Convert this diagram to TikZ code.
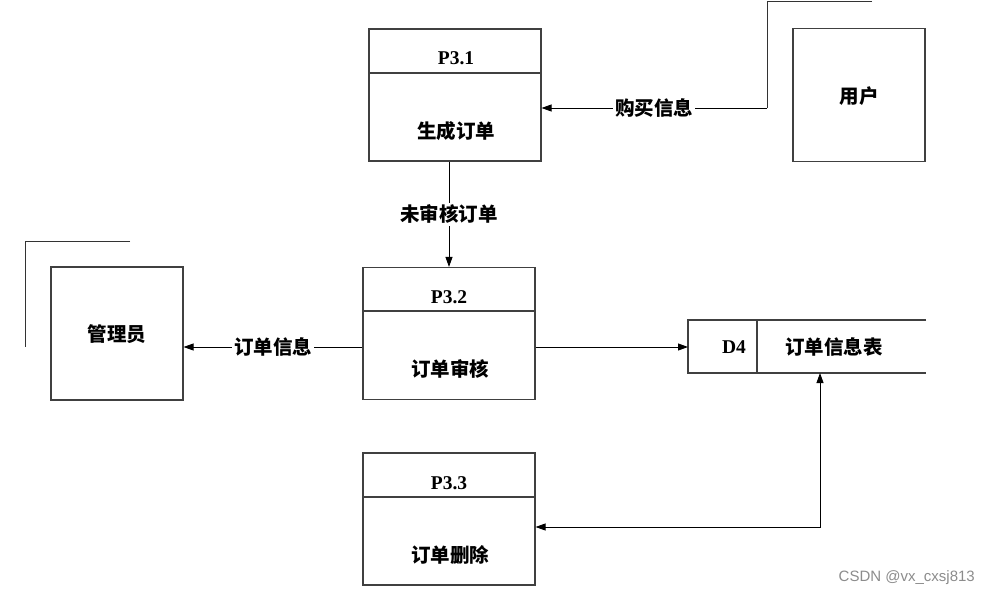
\documentclass[tikz,border=0pt]{standalone}
\usepackage{fontspec}
\setmainfont{Liberation Serif}
\newfontfamily\cjk{Noto Sans CJK SC}
\newfontfamily\wmfont{Liberation Sans}
\usetikzlibrary{arrows.meta}
\begin{document}
\begin{tikzpicture}[x=1pt,y=-1pt,
  boxline/.style={draw=black!75,line width=1.1pt},
  procbox/.style={boxline,rectangle,minimum width=172pt,minimum height=132pt,inner sep=0pt},
  entbox/.style={boxline,rectangle,minimum width=132pt,minimum height=133pt,inner sep=0pt},
  pid/.style={font=\fontsize{19.5}{21}\selectfont\bfseries,inner sep=1pt},
  ctext/.style={font=\cjk\fontsize{19.5}{22}\selectfont\bfseries,inner sep=1pt},
  flowlabel/.style={ctext,fill=white,inner sep=2pt},
  flow/.style={draw=black,line width=0.9pt,-{Triangle[length=10pt,width=7pt]}},
  flowboth/.style={draw=black,line width=0.9pt,{Triangle[length=10pt,width=7pt]}-{Triangle[length=10pt,width=7pt]}},
  shadowline/.style={draw=black!80,line width=1pt}
]
\useasboundingbox[fill=white] (0,0) rectangle (990,596);

% Process P3.1
\node[procbox] (p31) at (455,95) {};
\draw[boxline] (369,73) -- (541,73);
\node[pid] (p31id) at (456,58) {P3.1};
\node[ctext] (p31t) at (456,131) {生成订单};

% Process P3.2
\node[procbox] (p32) at (449,333.5) {};
\draw[boxline] (363,311) -- (535,311);
\node[pid] (p32id) at (449,297) {P3.2};
\node[ctext] (p32t) at (450,369) {订单审核};

% Process P3.3
\node[procbox] (p33) at (449,519) {};
\draw[boxline] (363,497) -- (535,497);
\node[pid] (p33id) at (449,483) {P3.3};
\node[ctext] (p33t) at (450,555) {订单删除};

% Entity user
\node[entbox] (user) at (859,95) {};
\node[ctext] (usert) at (859,96) {用户};
\coordinate (ucorner) at (767,2);
\draw[shadowline] (872,2) -- (ucorner);
\coordinate (ufrom) at (767,108);
\draw[shadowline] (ucorner) -- (ufrom);

% Entity admin
\node[entbox] (admin) at (117,333.5) {};
\node[ctext] (admint) at (117,334) {管理员};
\coordinate (acorner) at (25,241);
\draw[shadowline] (130,241) -- (acorner) -- (25,347);

% Data store D4
\coordinate (dtl) at (688,320);
\coordinate (dbl) at (688,373);
\coordinate (dtr) at (926,320);
\coordinate (dbr) at (926,373);
\draw[boxline] (dtr) -- (dtl) -- (dbl) -- (dbr);
\draw[boxline] (757,320) -- (757,373);
\node[pid] (d4id) at (734,347) {D4};
\node[ctext] (d4t) at (834,347) {订单信息表};
\coordinate (d4w) at (688,347);
\coordinate (d4s) at (820,373);

% Flows
\draw[flow] (ufrom) -- (p31.east |- ufrom) node[flowlabel,pos=0.5] (l1) {购买信息};
\draw[flow] (p32.north |- p31.south) -- (p32.north) node[flowlabel,pos=0.5] (l2) {未审核订单};
\draw[flow] (p32.west |- 0,347) -- (admin.east |- 0,347) node[flowlabel,pos=0.5] (l3) {订单信息};
\draw[flow] (p32.east |- d4w) -- (d4w);
\coordinate (bend) at (820,527);
\draw[flowboth] (p33.east |- bend) -- (bend) -- (d4s);

% Watermark
\node[font=\wmfont\fontsize{15}{17}\selectfont,text=black!45,anchor=east,inner sep=0pt] (wm) at (975,578) {CSDN @vx\_cxsj813};
\end{tikzpicture}
\end{document}
